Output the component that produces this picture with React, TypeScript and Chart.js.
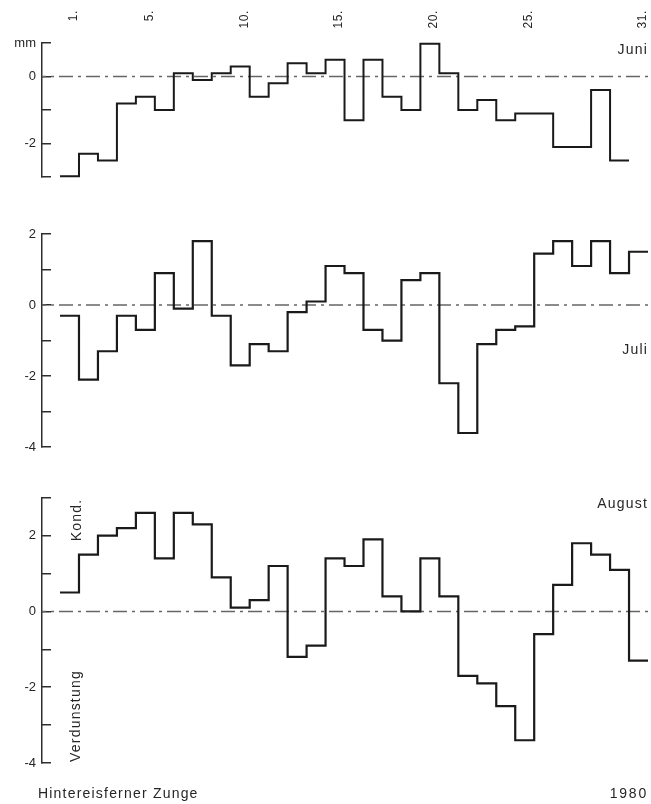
import React, { useEffect, useRef } from "react";
import { Chart, registerables } from "chart.js";

Chart.register(...registerables);

// ---- data ----
const dayTickLabels = [1, 5, 10, 15, 20, 25, 31];

const juniValues = [
  -2.97, -2.3, -2.5, -0.8, -0.6, -1.0, 0.1, -0.1, 0.1, 0.3,
  -0.6, -0.2, 0.4, 0.1, 0.5, -1.3, 0.5, -0.6, -1.0, 0.98,
  0.1, -1.0, -0.7, -1.3, -1.1, -1.1, -2.1, -2.1, -0.4, -2.5,
];
const juliValues = [
  -0.3, -2.1, -1.3, -0.3, -0.7, 0.9, -0.1, 1.8, -0.3, -1.7,
  -1.1, -1.3, -0.2, 0.1, 1.1, 0.9, -0.7, -1.0, 0.7, 0.9,
  -2.2, -3.6, -1.1, -0.7, -0.6, 1.45, 1.8, 1.1, 1.8, 0.9, 1.5,
];
const augustValues = [
  0.5, 1.5, 2.0, 2.2, 2.6, 1.4, 2.6, 2.3, 0.9, 0.1,
  0.3, 1.2, -1.2, -0.9, 1.4, 1.2, 1.9, 0.4, 0.0, 1.4,
  0.4, -1.7, -1.9, -2.5, -3.4, -0.6, 0.7, 1.8, 1.5, 1.1, -1.3,
];

const juniYTicks = [1, 0, -1, -2, -3];
const juniYLabels = ["mm", "0", "", "-2", ""];
const juliYTicks = [2, 1, 0, -1, -2, -3, -4];
const juliYLabels = ["2", "", "0", "", "-2", "", "-4"];
const augustYTicks = [3, 2, 1, 0, -1, -2, -3, -4];
const augustYLabels = ["", "2", "", "0", "", "-2", "", "-4"];

// ---- styling ----
const FONT = '"Liberation Sans", Arial, sans-serif';
const LINE = "#1a1a1a";
const AXIS = "#2e2e2e";
const ZERO = "#666666";
const TEXT = "#262626";
const X_MIN = -0.45;
const X_MAX = 31.5;

function buildSteps(values: number[]) {
  const pts = values.map((v, i) => ({ x: i + 0.5, y: v }));
  pts.push({ x: values.length + 0.5, y: values[values.length - 1] });
  return pts;
}

type Cfg = {
  values: number[];
  yMin: number;
  yMax: number;
  yTicks: number[];
  yLabels: string[];
  padTop: number;
  padBottom: number;
  lineWidth: number;
  draw: (chart: any) => void;
};

function makeChart(canvas: HTMLCanvasElement, cfg: Cfg) {
  const { values, yMin, yMax, yTicks, yLabels, padTop, padBottom, lineWidth, draw } = cfg;
  return new Chart(canvas, {
    type: "line",
    data: {
      datasets: [
        {
          data: buildSteps(values),
          stepped: true,
          borderColor: LINE,
          borderWidth: lineWidth,
          pointRadius: 0,
          fill: false,
          clip: false as any,
          borderJoinStyle: "miter",
          borderCapStyle: "butt",
        } as any,
        {
          data: [
            { x: X_MIN, y: 0 },
            { x: X_MAX, y: 0 },
          ],
          borderColor: ZERO,
          borderWidth: 1.4,
          borderDash: [14, 5, 3, 5],
          borderDashOffset: 10,
          pointRadius: 0,
          fill: false,
          clip: false as any,
        } as any,
      ],
    },
    options: {
      responsive: false,
      animation: false,
      devicePixelRatio: 1,
      events: [],
      layout: { padding: { top: padTop, bottom: padBottom, left: 0, right: 3 } },
      plugins: { legend: { display: false }, tooltip: { enabled: false } },
      scales: {
        x: { type: "linear", min: X_MIN, max: X_MAX, display: false },
        y: {
          type: "linear",
          min: yMin,
          max: yMax,
          position: "left",
          afterFit: (s: any) => {
            s.width = 42;
          },
          afterBuildTicks: (s: any) => {
            s.ticks = yTicks.map((v) => ({ value: v }));
          },
          grid: {
            drawOnChartArea: false,
            drawTicks: true,
            tickLength: -9,
            color: AXIS,
            lineWidth: 1.5,
          },
          border: { display: true, color: AXIS, width: 1.5 },
          ticks: {
            autoSkip: false,
            padding: 15,
            color: TEXT,
            font: { family: FONT, size: 13 },
            callback: (v: any) => {
              const i = yTicks.indexOf(Number(v));
              return i >= 0 ? yLabels[i] : "";
            },
          },
        } as any,
      },
    },
    plugins: [{ id: "annot", afterDraw: (chart: any) => draw(chart) }],
  } as any);
}

function text(
  ctx: CanvasRenderingContext2D,
  s: string,
  x: number,
  y: number,
  align: CanvasTextAlign,
  baseline: CanvasTextBaseline,
  size = 14,
  rotate = false,
  spacing = "1.2px"
) {
  ctx.save();
  ctx.font = `${size}px ${FONT}`;
  (ctx as any).letterSpacing = spacing;
  ctx.fillStyle = TEXT;
  ctx.textAlign = align;
  ctx.textBaseline = baseline;
  ctx.translate(x, y);
  if (rotate) ctx.rotate(-Math.PI / 2);
  ctx.fillText(s, 0, 0);
  ctx.restore();
}

const JUNI_TOP = 0;
const JULI_TOP = 210;
const AUG_TOP = 475;

export default function App() {
  const r1 = useRef<HTMLCanvasElement>(null);
  const r2 = useRef<HTMLCanvasElement>(null);
  const r3 = useRef<HTMLCanvasElement>(null);

  useEffect(() => {
    const charts: Chart[] = [];
    charts.push(
      makeChart(r1.current!, {
        values: juniValues,
        yMin: -3,
        yMax: 1,
        yTicks: juniYTicks,
        yLabels: juniYLabels,
        padTop: 43,
        padBottom: 5,
        lineWidth: 2,
        draw: (chart) => {
          const ctx = chart.ctx;
          const xs = chart.scales.x;
          dayTickLabels.forEach((d) => {
            text(ctx, `${d}.`, xs.getPixelForValue(d) + 4, 10, "right", "middle", 12, true, "0.6px");
          });
          text(ctx, "Juni", 648, 50 - JUNI_TOP, "right", "middle");
        },
      })
    );
    charts.push(
      makeChart(r2.current!, {
        values: juliValues,
        yMin: -4,
        yMax: 2,
        yTicks: juliYTicks,
        yLabels: juliYLabels,
        padTop: 24,
        padBottom: 11,
        lineWidth: 2.2,
        draw: (chart) => {
          text(chart.ctx, "Juli", 648, 350 - JULI_TOP, "right", "middle");
        },
      })
    );
    charts.push(
      makeChart(r3.current!, {
        values: augustValues,
        yMin: -4,
        yMax: 3,
        yTicks: augustYTicks,
        yLabels: augustYLabels,
        padTop: 22,
        padBottom: 41,
        lineWidth: 2.2,
        draw: (chart) => {
          const ctx = chart.ctx;
          text(ctx, "August", 648, 504 - AUG_TOP, "right", "middle");
          text(ctx, "Kond.", 77, 520 - AUG_TOP, "center", "middle", 14, true);
          text(ctx, "Verdunstung", 76, 716 - AUG_TOP, "center", "middle", 14, true);
          text(ctx, "Hintereisferner Zunge", 38, 798 - AUG_TOP, "left", "alphabetic");
          text(ctx, "1980", 648, 798 - AUG_TOP, "right", "alphabetic", 14, false, "1.8px");
        },
      })
    );
    return () => charts.forEach((c) => c.destroy());
  }, []);

  const cs = (top: number): React.CSSProperties => ({
    position: "absolute",
    left: 0,
    top,
    display: "block",
  });

  return (
    <div style={{ position: "absolute", left: 0, top: 0, width: 651, height: 804, background: "#fff" }}>
      <canvas ref={r1} width={651} height={200} style={cs(JUNI_TOP)} />
      <canvas ref={r2} width={651} height={260} style={cs(JULI_TOP)} />
      <canvas ref={r3} width={651} height={329} style={cs(AUG_TOP)} />
    </div>
  );
}
